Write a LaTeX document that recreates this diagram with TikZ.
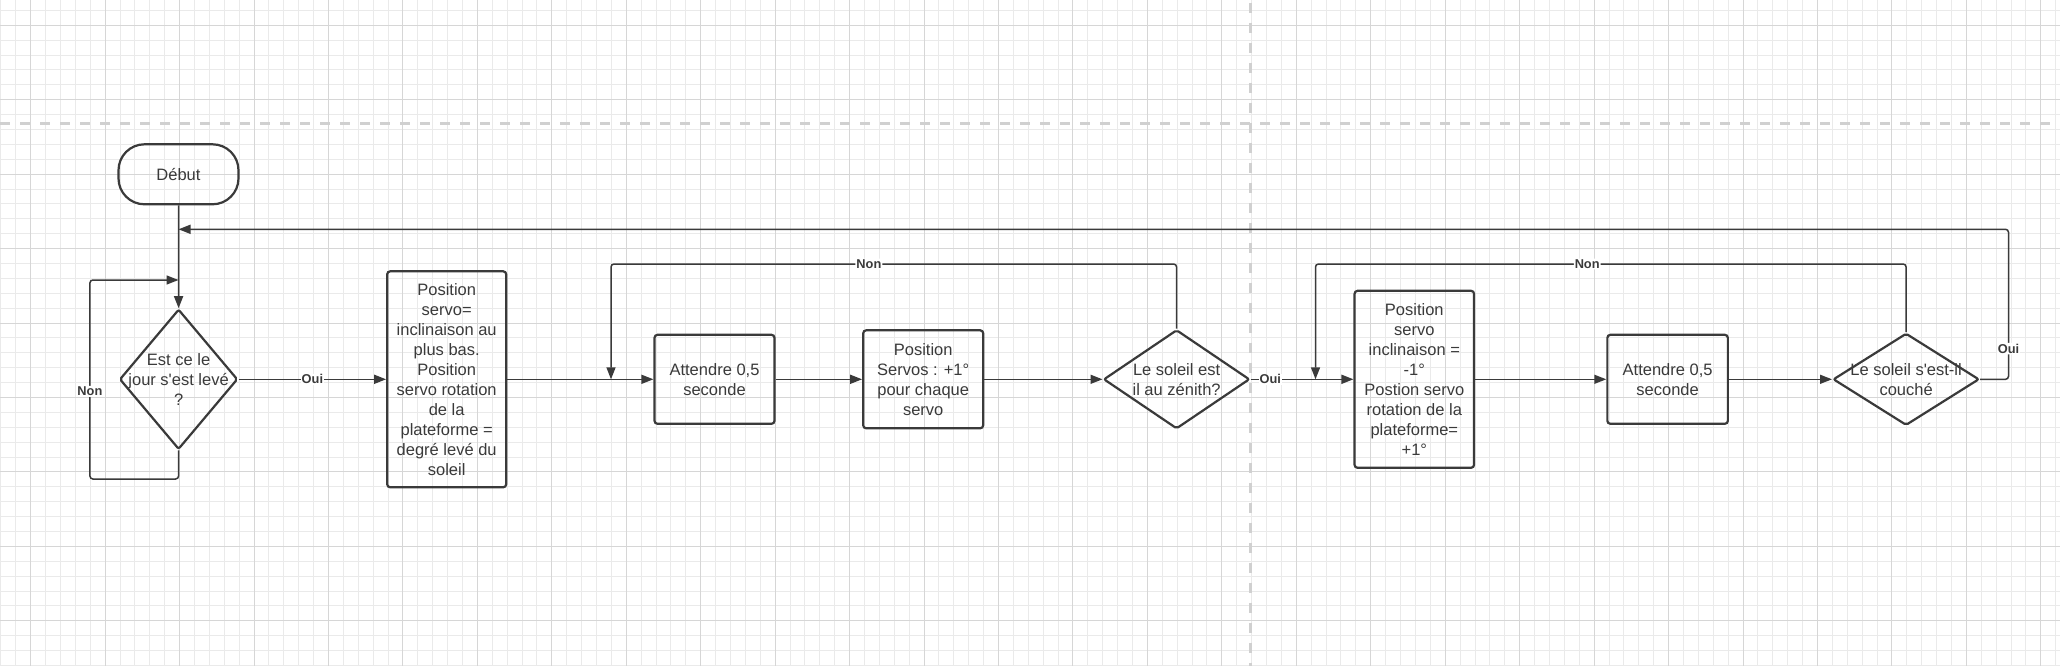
\documentclass[tikz,border=0pt]{standalone}
\usepackage{fontspec}
\setmainfont{Liberation Sans}[Ligatures=TeXOff]
\usetikzlibrary{arrows.meta,shapes.geometric}
\definecolor{ink}{HTML}{3A3A3A}
\definecolor{minorgrid}{HTML}{EAEAEA}
\definecolor{majorgrid}{HTML}{D6D6D6}
\definecolor{pagebreak}{HTML}{D0D0D0}

\begin{document}
\begin{tikzpicture}[x=1pt,y=-1pt,
	every node/.style={text=ink, font=\fontsize{16.5}{20}\selectfont, align=center},
	box/.style={draw=ink, line width=2.2pt, rounded corners=3pt, inner sep=0pt},
	decision/.style={diamond, draw=ink, line width=2.2pt, rounded corners=2pt, inner sep=0pt},
	flow/.style={draw=ink, line width=1.5pt, -{Triangle[length=12pt,width=9pt]}},
	lbl/.style={fill=white, inner sep=1pt, font=\fontsize{12.8}{14}\selectfont\bfseries}]
			\useasboundingbox (0,0) rectangle (2060,666);
			\fill[white] (0,0) rectangle (2060,666); % paper
			% grid, snapped to whole pixels
			\foreach \k [evaluate=\k as \x using {floor(0.9+14.89*\k)+0.5}] in {0,...,138}
				\draw[minorgrid, line width=1pt] (\x,0) -- (\x,666);
			\foreach \k [evaluate=\k as \y using {floor(10.4+14.89*\k)+0.5}] in {0,...,44}
				\draw[minorgrid, line width=1pt] (0,\y) -- (2060,\y);
			\foreach \k [evaluate=\k as \x using {floor(30.7+74.45*\k)+0.5}] in {0,...,27}
				\draw[majorgrid, line width=1pt] (\x,0) -- (\x,666);
			\foreach \k [evaluate=\k as \y using {floor(25.3+74.45*\k)+0.5}] in {0,...,8}
				\draw[majorgrid, line width=1pt] (0,\y) -- (2060,\y);
			\draw[pagebreak, line width=3pt, dash pattern=on 10pt off 10pt] (0,124) -- (2060,124); % page break
			\draw[pagebreak, line width=3pt, dash pattern=on 10pt off 10pt] (1250,2.7) -- (1250,666); % page break
			% shapes
			\node[box, minimum width=120pt, minimum height=60pt, rounded corners=26pt] (debut) at (178.5,174.3) {Début};
			\node[decision, minimum width=118pt, minimum height=140pt] (d1) at (178.6,379.3) {};
			\node (d1t) at (d1) {Est ce le\\jour s'est levé\\?};
			\node[box, minimum width=119pt, minimum height=216pt] (b1) at (446.7,379.3) {Position\\servo=\\inclinaison au\\plus bas.\\Position\\servo rotation\\de la\\plateforme =\\degré levé du\\soleil};
			\node[box, minimum width=120pt, minimum height=89pt] (att1) at (714.5,379.3) {Attendre 0,5\\seconde};
			\node[box, minimum width=120pt, minimum height=98pt] (b2) at (923.2,379.3) {Position\\Servos : +1°\\pour chaque\\servo};
			\node[decision, minimum width=146pt, minimum height=99pt] (d2) at (1176.6,379.3) {};
			\node (d2t) at (d2) {Le soleil est\\il au zénith?};
			\node[box, minimum width=119.5pt, minimum height=177pt] (b3) at (1414.3,379.3) {Position\\servo\\inclinaison =\\-1°\\Postion servo\\rotation de la\\plateforme=\\+1°};
			\node[box, minimum width=120.5pt, minimum height=89pt] (att2) at (1667.6,379.3) {Attendre 0,5\\seconde};
			\node[decision, minimum width=146pt, minimum height=92pt] (d3) at (1906.1,379.3) {};
			\node (d3t) at (d3) {Le soleil s'est-il\\couché};
			% bends
			\coordinate (nonA) at (89.9,479);
			\coordinate (nonB) at (89.9,280);
			\coordinate (nonC) at (611,264);
			\coordinate (nonD) at (1315.5,264);
			\coordinate (retA) at (2008.5,379.3);
			\coordinate (retB) at (2008.5,229.3);
			% connectors
			\draw[flow] (debut.south) -- (d1.north);
			\draw[flow, rounded corners=3pt] (d1.south) |- (nonA) -- node[lbl, pos=0.44] {Non} (nonB) -- (nonB -| debut); % wait loop
			\draw[flow] (d1) -- node[lbl] {Oui} (b1);
			\draw[flow] (b1) -- (att1);
			\draw[flow] (att1) -- (b2);
			\draw[flow] (b2) -- (d2);
			\draw[flow, rounded corners=3pt] (d2.north) |- node[lbl, pos=0.772] {Non} (nonC) -- (nonC |- b1); % zenith loop
			\draw[flow] (d2) -- node[lbl, pos=0.19] {Oui} (b3);
			\draw[flow] (b3) -- (att2);
			\draw[flow] (att2) -- (d3);
			\draw[flow, rounded corners=3pt] (d3.north) |- node[lbl, pos=0.77] {Non} (nonD) -- (nonD |- b3); % sunset loop
			\draw[flow, rounded corners=3pt] (d3.east) -- (retA) -- node[lbl, pos=0.205] {Oui} (retB) -- (retB -| debut); % back to start
			\end{tikzpicture}
\end{document}
